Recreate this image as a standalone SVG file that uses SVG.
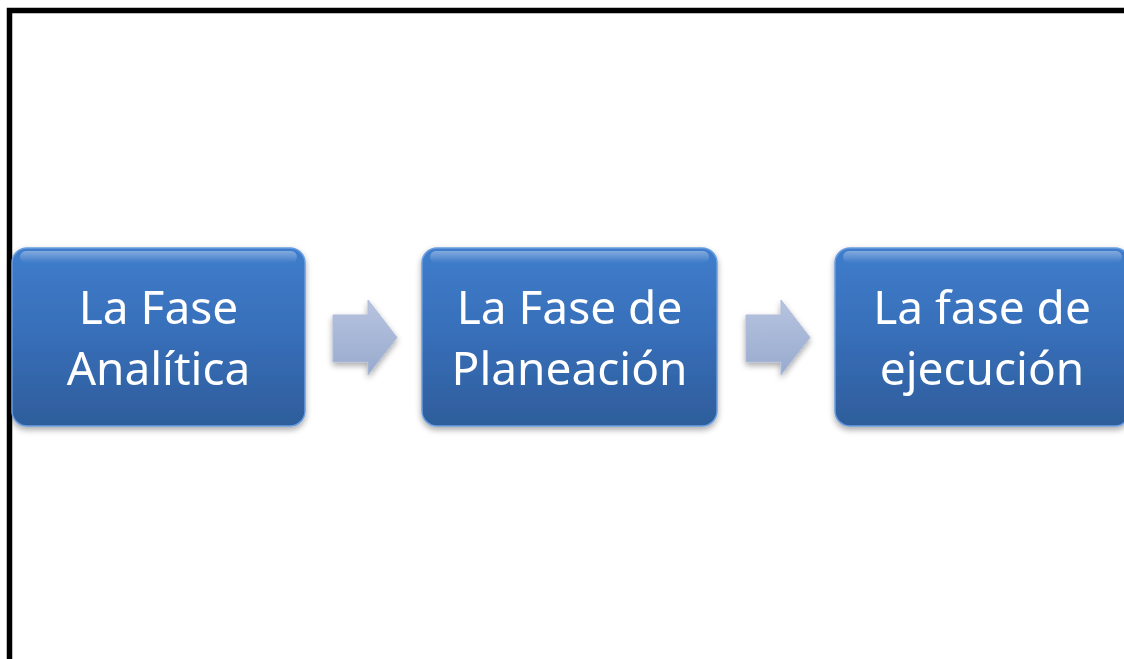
<svg xmlns="http://www.w3.org/2000/svg" width="1124" height="659" viewBox="0 0 1124 659">
<defs>
<linearGradient id="boxg" x1="0" y1="0" x2="0" y2="1">
<stop offset="0" stop-color="#3f7dcc"/>
<stop offset="0.5" stop-color="#376eb8"/>
<stop offset="1" stop-color="#2e5d9b"/>
</linearGradient>
<linearGradient id="gloss" x1="0" y1="0" x2="0" y2="1">
<stop offset="0" stop-color="#ffffff" stop-opacity="0.35"/>
<stop offset="1" stop-color="#ffffff" stop-opacity="0"/>
</linearGradient>
<linearGradient id="arrg" x1="0" y1="0" x2="0" y2="1">
<stop offset="0" stop-color="#b7c4e0"/>
<stop offset="1" stop-color="#98aacd"/>
</linearGradient>
<filter id="sh" x="-10%" y="-10%" width="120%" height="130%">
<feGaussianBlur in="SourceAlpha" stdDeviation="3"/>
<feOffset dx="0" dy="3" result="b"/>
<feComponentTransfer><feFuncA type="linear" slope="0.35"/></feComponentTransfer>
<feMerge><feMergeNode/><feMergeNode in="SourceGraphic"/></feMerge>
</filter>
</defs>
<style>
.box{fill:url(#boxg);stroke:#6a9de0;stroke-width:1.5}
.gl{fill:url(#gloss)}
.t{font-family:"Noto Sans","Open Sans",sans-serif;font-size:46px;fill:#ffffff;text-anchor:middle}
.arr{fill:url(#arrg);stroke:#aebbd9;stroke-width:1}
</style>
<rect x="0" y="0" width="1124" height="659" fill="#ffffff"/>
<path d="M9.5 662 V10.5 H1130" fill="none" stroke="#000" stroke-width="5.5"/>
<g id="node1" filter="url(#sh)">
<rect class="box" x="12" y="248" width="293" height="178" rx="15"/>
<rect class="gl" x="20" y="251" width="277" height="12" rx="6"/>
<text class="t" x="158.5" y="324">La Fase</text>
<text class="t" x="158.5" y="385">Analítica</text>
</g>
<g id="node2" filter="url(#sh)">
<rect class="box" x="422" y="248" width="295" height="178" rx="15"/>
<rect class="gl" x="430" y="251" width="279" height="12" rx="6"/>
<text class="t" x="569.5" y="324">La Fase de</text>
<text class="t" x="569.5" y="385">Planeación</text>
</g>
<g id="node3" filter="url(#sh)">
<rect class="box" x="835" y="248" width="295" height="178" rx="15"/>
<rect class="gl" x="843" y="251" width="279" height="12" rx="6"/>
<text class="t" x="982" y="324">La fase de</text>
<text class="t" x="982" y="385">ejecución</text>
</g>
<g id="connectors" filter="url(#sh)">
<path class="arr" d="M333 315 H368 V300 L397 337.5 L368 375 V362 H333 Z"/>
<path class="arr" d="M746 315 H781 V300 L810 337.5 L781 375 V362 H746 Z"/>
</g>
</svg>
